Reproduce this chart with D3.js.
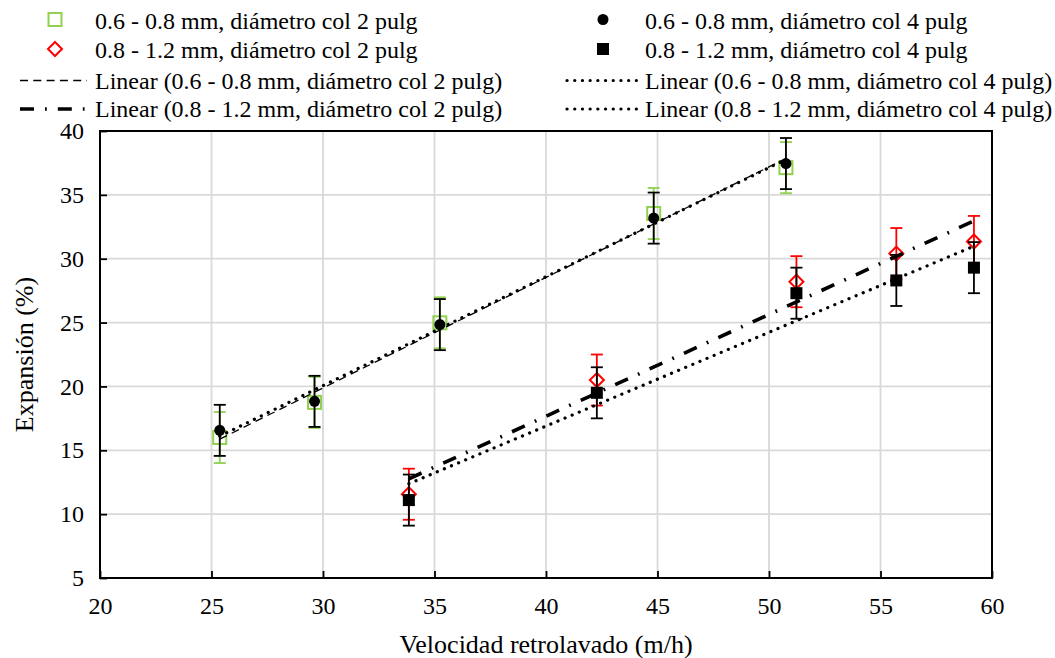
<!DOCTYPE html>
<html>
<head>
<meta charset="utf-8">
<script src="https://cdn.jsdelivr.net/npm/d3@7"></script>
<style>
  html, body { margin: 0; padding: 0; background: #fff; }
  svg { display: block; font-family: "Liberation Serif", "Times New Roman", Times, serif; }
</style>
</head>
<body>
<svg id="chart" width="1055" height="658"></svg>
<script>
// ---- Data ----
const xTicks = [20, 25, 30, 35, 40, 45, 50, 55, 60];
const yTicks = [5, 10, 15, 20, 25, 30, 35, 40];

const xSmall = [25.37, 29.62, 35.24, 44.83, 50.76];          // 0.6 - 0.8 mm velocities
const xLarge = [33.85, 42.28, 51.23, 55.71, 59.19];          // 0.8 - 1.2 mm velocities

const yCol2Small = [16.0, 18.75, 24.98, 33.54, 37.13];       // green squares
const yCol2Large = [11.56, 20.5, 28.2, 30.4, 31.35];         // red diamonds
const yCol4Small = [16.56, 18.83, 24.84, 33.18, 37.45];      // black circles
const yCol4Large = [11.1, 19.5, 27.3, 28.3, 29.3];           // black squares

const errCol2Small = [2, 2, 2, 2, 2];
const errCol2Large = [2, 2, 2, 2, 2];
const errCol4Small = [2, 2, 2, 2, 2];
const errCol4Large = [2, 2, 2, 2, 2];

const seriesNames = [
  "0.6 - 0.8 mm, diámetro col 2 pulg",
  "0.8 - 1.2 mm, diámetro col 2 pulg",
  "0.6 - 0.8 mm, diámetro col 4 pulg",
  "0.8 - 1.2 mm, diámetro col 4 pulg"
];

// ---- Layout ----
const svg = d3.select("#chart");
const L = 100, R = 992, T = 131, B = 578;
const x = d3.scaleLinear().domain([20, 60]).range([L, R]);
const y = d3.scaleLinear().domain([5, 40]).range([B, T]);

const GREEN = "#92D050", RED = "#FF0000", GRID = "#D9D9D9";
const FONT = '"Liberation Serif", "Times New Roman", Times, serif';

const series = [
  { name: seriesNames[0], xs: xSmall, ys: yCol2Small, err: errCol2Small, color: GREEN, marker: "openSquare",
    trend: { dash: "8 5.3", width: 1.3, cap: "butt" } },
  { name: seriesNames[1], xs: xLarge, ys: yCol2Large, err: errCol2Large, color: RED, marker: "diamond",
    trend: { dash: "14 11 1.8 11", width: 3.6, cap: "butt" } },
  { name: seriesNames[2], xs: xSmall, ys: yCol4Small, err: errCol4Small, color: "#000", marker: "circle",
    trend: { dash: "0.1 7.6", width: 3.2, cap: "round" } },
  { name: seriesNames[3], xs: xLarge, ys: yCol4Large, err: errCol4Large, color: "#000", marker: "filledSquare",
    trend: { dash: "0.1 7.6", width: 3.2, cap: "round" } }
];

// ---- Grid ----
const grid = svg.append("g");
grid.selectAll(".vg").data(xTicks.slice(1, -1)).join("line")
  .attr("x1", d => x(d)).attr("x2", d => x(d)).attr("y1", T).attr("y2", B)
  .attr("stroke", GRID).attr("stroke-width", 1.8);
grid.selectAll(".hg").data(yTicks.slice(1, -1)).join("line")
  .attr("x1", L).attr("x2", R).attr("y1", d => y(d)).attr("y2", d => y(d))
  .attr("stroke", GRID).attr("stroke-width", 1.8);

// ---- Axes (ticks inside) ----
const xAxis = d3.axisBottom(x).tickValues(xTicks).tickSizeInner(-7).tickSizeOuter(0).tickPadding(19);
const yAxis = d3.axisLeft(y).tickValues(yTicks).tickSizeInner(-7).tickSizeOuter(0).tickPadding(16);

const gx = svg.append("g").attr("transform", `translate(0,${B})`).call(xAxis);
const gy = svg.append("g").attr("transform", `translate(${L},0)`).call(yAxis);
[gx, gy].forEach(g => {
  g.attr("font-family", null).attr("font-size", null);
  g.select(".domain").remove();
  g.selectAll(".tick line").attr("stroke", "#000").attr("stroke-width", 1.8);
  g.selectAll(".tick text").attr("fill", "#000").style("font-size", "24px").style("font-family", FONT);
});
gx.selectAll(".tick text").attr("dy", "0.71em");

// frame
svg.append("rect").attr("x", L).attr("y", T).attr("width", R - L).attr("height", B - T)
  .attr("fill", "none").attr("stroke", "#000").attr("stroke-width", 2);

// ---- Axis titles ----
svg.append("text").attr("x", (L + R) / 2).attr("y", 653).attr("text-anchor", "middle")
  .style("font-size", "26px").style("font-family", FONT).text("Velocidad retrolavado (m/h)");
svg.append("text").attr("transform", `translate(33,${(T + B) / 2}) rotate(-90)`).attr("text-anchor", "middle")
  .style("font-size", "26px").style("font-family", FONT).text("Expansión (%)");

// ---- Marker drawing ----
function drawMarker(g, type, cx, cy, color) {
  if (type === "openSquare") {
    const s = 13;
    g.append("rect").attr("x", cx - s / 2).attr("y", cy - s / 2).attr("width", s).attr("height", s)
      .attr("fill", "none").attr("stroke", color).attr("stroke-width", 2);
  } else if (type === "diamond") {
    const s = 7;
    g.append("path").attr("d", `M${cx},${cy - s}L${cx + s},${cy}L${cx},${cy + s}L${cx - s},${cy}Z`)
      .attr("fill", "none").attr("stroke", color).attr("stroke-width", 2);
  } else if (type === "circle") {
    g.append("circle").attr("cx", cx).attr("cy", cy).attr("r", 5.5).attr("fill", color);
  } else if (type === "filledSquare") {
    const s = 12;
    g.append("rect").attr("x", cx - s / 2).attr("y", cy - s / 2).attr("width", s).attr("height", s)
      .attr("fill", color);
  }
}

// ---- Series: error bars + markers ----
const plot = svg.append("g");
series.forEach(s => {
  const g = plot.append("g");
  s.xs.forEach((xv, i) => {
    const px = x(xv), lo = y(s.ys[i] - s.err[i]), hi = y(s.ys[i] + s.err[i]);
    g.append("line").attr("x1", px).attr("x2", px).attr("y1", lo).attr("y2", hi)
      .attr("stroke", s.color).attr("stroke-width", 1.8);
    [lo, hi].forEach(py => g.append("line").attr("x1", px - 6).attr("x2", px + 6).attr("y1", py).attr("y2", py)
      .attr("stroke", s.color).attr("stroke-width", 1.8));
  });
  s.xs.forEach((xv, i) => drawMarker(g, s.marker, x(xv), y(s.ys[i]), s.color));
});

// ---- Linear trendlines (least squares fit over each series) ----
function fit(xs, ys) {
  const n = xs.length, mx = d3.mean(xs), my = d3.mean(ys);
  let sxy = 0, sxx = 0;
  for (let i = 0; i < n; i++) { sxy += (xs[i] - mx) * (ys[i] - my); sxx += (xs[i] - mx) ** 2; }
  const m = sxy / sxx;
  return v => my + m * (v - mx);
}
const line = d3.line().x(d => x(d[0])).y(d => y(d[1]));
series.forEach(s => {
  const f = fit(s.xs, s.ys);
  const ext = d3.extent(s.xs);
  plot.append("path").attr("d", line(ext.map(v => [v, f(v)])))
    .attr("fill", "none").attr("stroke", "#000").attr("stroke-width", s.trend.width)
    .attr("stroke-dasharray", s.trend.dash).attr("stroke-linecap", s.trend.cap);
});

// ---- Legend ----
const legend = svg.append("g").style("font-size", "24px").style("font-family", FONT);
const cols = [{ mx: 55, lx1: 20, lx2: 87, tx: 95 }, { mx: 603, lx1: 567, lx2: 640, tx: 645 }];
const baselines = [28.5, 58, 88.5, 117];
series.forEach((s, i) => {
  const c = cols[i < 2 ? 0 : 1];
  const row = i % 2;
  const by = baselines[row];
  drawMarker(legend, s.marker, c.mx, by - 9, s.color);
  legend.append("text").attr("x", c.tx).attr("y", by).text(s.name);
  const by2 = baselines[row + 2];
  legend.append("line").attr("x1", c.lx1).attr("x2", c.lx2).attr("y1", by2 - 8).attr("y2", by2 - 8)
    .attr("stroke", "#000").attr("stroke-width", s.trend.width)
    .attr("stroke-dasharray", s.trend.dash).attr("stroke-linecap", s.trend.cap);
  legend.append("text").attr("x", c.tx).attr("y", by2).text("Linear (" + s.name + ")");
});
</script>
</body>
</html>
